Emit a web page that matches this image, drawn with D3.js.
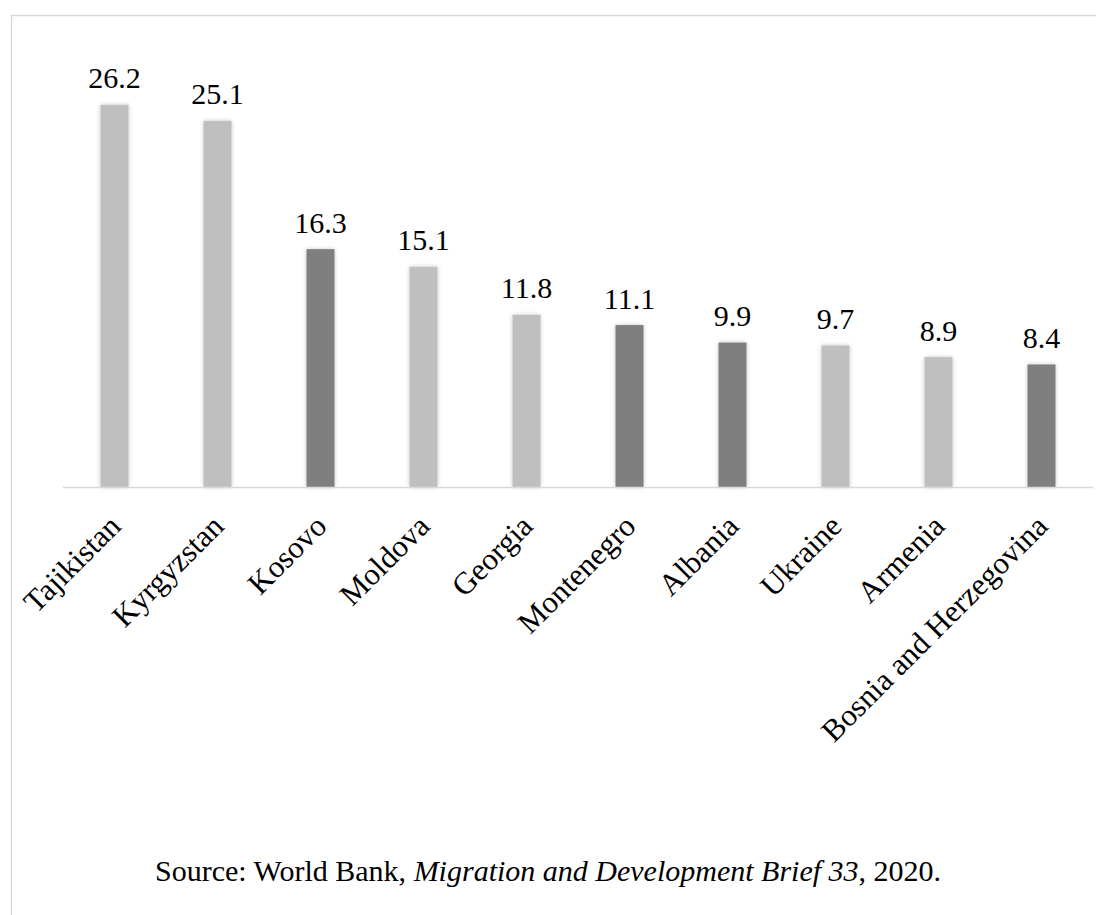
<!DOCTYPE html>
<html>
<head>
<meta charset="utf-8">
<script src="https://cdn.jsdelivr.net/npm/d3@7"></script>
<style>
  html, body { margin: 0; padding: 0; background: #fff; }
  svg { display: block; }
  svg text { font-family: "Liberation Serif", "Times New Roman", Times, serif; }
</style>
</head>
<body>
<svg id="chart" width="1096" height="915"></svg>
<script>
// Personal remittances as share of GDP, 2019 (%)
const countries = ["Tajikistan", "Kyrgyzstan", "Kosovo", "Moldova", "Georgia",
                   "Montenegro", "Albania", "Ukraine", "Armenia", "Bosnia and Herzegovina"];
const shares = [26.2, 25.1, 16.3, 15.1, 11.8, 11.1, 9.9, 9.7, 8.9, 8.4];
// Western Balkan economies are shaded darker
const groups = ["other", "other", "balkans", "other", "other",
                "balkans", "balkans", "other", "other", "balkans"];
const groupColors = { other: "#bfbfbf", balkans: "#7f7f7f" };
const sourceParts = [
  { text: "Source: World Bank, ", italic: false },
  { text: "Migration and Development Brief 33", italic: true },
  { text: ", 2020.", italic: false }
];

const W = 1096, H = 915;
const FONT = "'Liberation Serif', 'Times New Roman', Times, serif";
const svg = d3.select("#chart");

// outer frame
svg.append("rect")
  .attr("x", 11.5).attr("y", 15.5)
  .attr("width", W + 20).attr("height", H + 20)
  .attr("fill", "none").attr("stroke", "#d9d9d9").attr("stroke-width", 1.5);

// soft shadow under bars
const defs = svg.append("defs");
const f = defs.append("filter").attr("id", "barShadow")
  .attr("x", "-30%").attr("y", "-10%").attr("width", "160%").attr("height", "120%");
f.append("feDropShadow").attr("dx", 0).attr("dy", 0).attr("stdDeviation", 2.2)
  .attr("flood-color", "#000").attr("flood-opacity", 0.22);

const plot = { left: 63, right: 1093, top: 49.3, bottom: 487 };

const x = d3.scaleBand()
  .domain(countries)
  .range([plot.left, plot.left + 103 * countries.length])
  .paddingInner(0.728).paddingOuter(0.364);

const y = d3.scaleLinear().domain([0, 30]).range([plot.bottom, plot.top]);

const data = countries.map((c, i) => ({ c, v: shares[i], g: groups[i] }));

svg.append("g").selectAll("rect")
  .data(data).join("rect")
  .attr("x", d => x(d.c))
  .attr("y", d => y(d.v))
  .attr("width", x.bandwidth())
  .attr("height", d => y(0) - y(d.v))
  .attr("fill", d => groupColors[d.g])
  .attr("filter", "url(#barShadow)");

// category axis line
const xAxis = d3.axisBottom(x).tickSize(0).tickFormat("");
const gx = svg.append("g").attr("transform", `translate(0,${plot.bottom})`).call(xAxis);
gx.select(".domain").remove();
gx.append("line")
  .attr("x1", plot.left).attr("x2", plot.right)
  .attr("y1", 0.5).attr("y2", 0.5)
  .attr("stroke", "#d9d9d9").attr("stroke-width", 1.5);

// rotated category labels
svg.append("g").selectAll("text")
  .data(data).join("text")
  .attr("transform", d => `translate(${x(d.c) + x.bandwidth() / 2 + 8},${plot.bottom + 41}) rotate(-45)`)
  .attr("text-anchor", "end")
  .attr("font-family", FONT)
  .attr("font-size", 31)
  .attr("fill", "#000")
  .text(d => d.c);

// value labels
svg.append("g").selectAll("text")
  .data(data).join("text")
  .attr("x", d => x(d.c) + x.bandwidth() / 2)
  .attr("y", d => y(d.v) - 16.5)
  .attr("text-anchor", "middle")
  .attr("font-family", FONT)
  .attr("font-size", 30)
  .attr("fill", "#000")
  .text(d => d.v.toFixed(1));

// source note
const src = svg.append("text")
  .attr("x", W / 2).attr("y", 881)
  .attr("text-anchor", "middle")
  .attr("font-family", FONT)
  .attr("font-size", 30)
  .attr("fill", "#000");
src.selectAll("tspan").data(sourceParts).join("tspan")
  .attr("font-style", d => d.italic ? "italic" : "normal")
  .text(d => d.text);
</script>
</body>
</html>
